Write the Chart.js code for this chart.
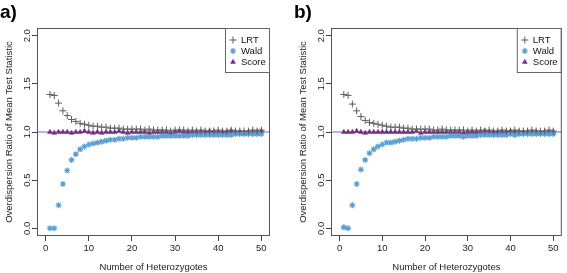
<!DOCTYPE html>
<html>
<head>
<meta charset="utf-8">
<script src="https://cdn.jsdelivr.net/npm/chart.js@4.4.1/dist/chart.umd.min.js"></script>
<style>
  body { margin: 0; background: #fff; }
  .painel { position: absolute; top: 0; height: 273px; }
</style>
</head>
<body>
<div class="painel" style="left:0px;width:283px"><canvas id="graficoA"></canvas></div>
<div class="painel" style="left:294px;width:273px"><canvas id="graficoB"></canvas></div>
<script>
// eixo x: número de heterozigotos
const heterozigotos = [1,2,3,4,5,6,7,8,9,10,11,12,13,14,15,16,17,18,19,20,21,22,23,24,25,
  26,27,28,29,30,31,32,33,34,35,36,37,38,39,40,41,42,43,44,45,46,47,48,49,50];
const xTicks = [0, 10, 20, 30, 40, 50];
const yTicks = [0, 0.5, 1, 1.5, 2];
const yTickLabels = ['0.0', '0.5', '1.0', '1.5', '2.0'];
const linhaRef = 1;
const nomesSeries = ['LRT', 'Wald', 'Score'];

// painel a)
const lrtA = [1.39,1.38,1.30,1.22,1.17,1.13,1.11,1.09,1.08,1.07, 1.06,1.06,1.05,1.05,1.04,1.04,1.04,1.03,1.03,1.03,
  1.03,1.03,1.02,1.03,1.02,1.02,1.02,1.02,1.01,1.02, 1.02,1.02,1.01,1.02,1.01,1.02,1.01,1.01,1.01,1.02,
  1.01,1.01,1.02,1.01,1.01,1.01,1.01,1.02,1.01,1.02];
const waldA = [0.00,0.00,0.24,0.46,0.60,0.71,0.77,0.82,0.85,0.87, 0.88,0.89,0.90,0.91,0.92,0.92,0.93,0.93,0.94,0.94,
  0.94,0.95,0.95,0.95,0.95,0.95,0.96,0.96,0.96,0.96, 0.96,0.96,0.96,0.97,0.97,0.97,0.97,0.97,0.97,0.97,
  0.97,0.97,0.97,0.98,0.98,0.98,0.98,0.98,0.98,0.98];
const scoreA = [1.00,0.99,1.00,1.00,1.00,0.99,1.00,1.00,1.01,1.00, 0.99,1.00,0.99,1.00,1.00,1.00,1.01,1.00,0.99,1.00,
  1.00,1.00,1.00,0.99,1.00,1.00,1.00,1.00,0.99,1.00, 1.01,1.00,1.00,1.00,1.00,1.00,1.00,1.01,1.00,1.00,
  1.00,1.00,1.01,1.00,1.00,0.99,1.00,1.00,1.00,1.01];

// painel b)
const lrtB = [1.39,1.38,1.29,1.22,1.16,1.12,1.10,1.09,1.08,1.07, 1.06,1.05,1.05,1.05,1.04,1.04,1.03,1.03,1.03,1.03,
  1.03,1.02,1.02,1.03,1.02,1.02,1.02,1.02,1.02,1.01, 1.02,1.01,1.02,1.01,1.02,1.01,1.01,1.02,1.01,1.01,
  1.02,1.01,1.01,1.01,1.02,1.01,1.01,1.01,1.02,1.01];
const waldB = [0.01,0.00,0.24,0.46,0.61,0.71,0.78,0.82,0.85,0.87, 0.89,0.89,0.90,0.91,0.92,0.93,0.93,0.93,0.94,0.94,
  0.94,0.95,0.95,0.95,0.95,0.96,0.96,0.96,0.95,0.96, 0.96,0.96,0.97,0.97,0.97,0.97,0.97,0.97,0.97,0.98,
  0.97,0.98,0.98,0.98,0.98,0.98,0.98,0.98,0.98,0.98];
const scoreB = [1.00,1.00,1.00,1.01,1.00,0.99,1.00,1.00,1.00,1.00, 1.00,1.00,1.00,1.00,1.00,1.00,1.00,1.01,0.99,1.00,
  1.00,1.00,1.00,1.00,1.00,1.00,1.00,1.00,0.99,1.00, 1.00,1.00,1.00,1.01,1.00,1.00,1.00,1.00,1.00,1.01,
  1.00,1.00,1.00,1.00,1.00,1.00,0.99,1.00,1.00,1.00];

Chart.defaults.font.family = '"Liberation Sans", Arial, sans-serif';
Chart.defaults.color = '#222';

const pontos = (serie) => serie.map((v, i) => ({ x: heterozigotos[i], y: v }));

// linha horizontal em 1.0 + moldura + rótulos do eixo y giráveis
const pluginMoldura = {
  id: 'moldura',
  beforeDatasetsDraw(chart) {
    const { ctx, chartArea, scales } = chart;
    const y = scales.y.getPixelForValue(linhaRef);
    ctx.save();
    ctx.strokeStyle = 'rgba(120,120,220,0.75)';
    ctx.lineWidth = 1.3;
    ctx.beginPath();
    ctx.moveTo(chartArea.left, y);
    ctx.lineTo(chartArea.right, y);
    ctx.stroke();
    ctx.restore();
  },
  afterDraw(chart) {
    const { ctx, chartArea, scales } = chart;
    ctx.save();
    ctx.strokeStyle = '#555';
    ctx.lineWidth = 1;
    ctx.strokeRect(chartArea.left + 0.5, chartArea.top + 0.5,
      chartArea.right - chartArea.left - 1, chartArea.bottom - chartArea.top - 1);

    // rótulos do eixo y, na vertical como no R
    ctx.fillStyle = '#222';
    ctx.font = '9.5px "Liberation Sans", Arial, sans-serif';
    ctx.textAlign = 'center';
    ctx.textBaseline = 'middle';
    yTicks.forEach((v, i) => {
      const y = scales.y.getPixelForValue(v);
      ctx.save();
      ctx.translate(chartArea.left - 10, y);
      ctx.rotate(-Math.PI / 2);
      ctx.fillText(yTickLabels[i], 0, 0);
      ctx.restore();
    });

    // legenda com caixa no canto superior direito
    const larg = 45, alt = 45;
    const bx = chartArea.right - larg, by = chartArea.top;
    ctx.strokeStyle = '#666';
    ctx.strokeRect(bx + 0.5, by + 0.5, larg - 1, alt - 1);
    ctx.font = '9.5px "Liberation Sans", Arial, sans-serif';
    ctx.textAlign = 'left';
    chart.data.datasets.forEach((ds, i) => {
      const yy = by + 12 + i * 11;
      ctx.save();
      ctx.strokeStyle = ds.borderColor;
      ctx.fillStyle = ds.backgroundColor;
      ctx.lineWidth = ds.borderWidth;
      Chart.helpers.drawPoint(ctx, { pointStyle: ds.pointStyle, radius: ds.pointRadius, borderWidth: ds.borderWidth, rotation: 0 }, bx + 8, yy);
      ctx.restore();
      ctx.fillStyle = '#111';
      ctx.fillText(ds.label, bx + 16, yy);
    });
    ctx.restore();
  }
};

function criarPainel(id, letra, lrt, wald, score, padDireita) {
  return new Chart(document.getElementById(id), {
    type: 'scatter',
    data: {
      datasets: [
        {
          label: nomesSeries[0],
          data: pontos(lrt),
          pointStyle: 'cross',
          pointRadius: 3.5,
          borderWidth: 1,
          borderColor: '#5c5c5c',
          backgroundColor: '#5c5c5c'
        },
        {
          label: nomesSeries[1],
          data: pontos(wald),
          pointStyle: 'star',
          pointRadius: 3,
          borderWidth: 1.2,
          borderColor: '#5b9fd3',
          backgroundColor: '#5b9fd3'
        },
        {
          label: nomesSeries[2],
          data: pontos(score),
          pointStyle: 'triangle',
          pointRadius: 2.8,
          borderWidth: 0.5,
          borderColor: '#742783',
          backgroundColor: '#742783'
        }
      ]
    },
    options: {
      responsive: true,
      maintainAspectRatio: false,
      animation: false,
      events: [],
      layout: { padding: { left: 0, right: padDireita, top: 0, bottom: 0 } },
      scales: {
        x: {
          type: 'linear',
          min: -2,
          max: 52,
          afterBuildTicks: (s) => { s.ticks = xTicks.map(v => ({ value: v })); },
          afterFit: (s) => { s.height = 37; },
          border: { display: false },
          grid: { drawOnChartArea: false, drawTicks: true, tickLength: 5, color: '#444' },
          ticks: { font: { size: 9.5 }, color: '#222', padding: 2, maxRotation: 0 },
          title: { display: true, text: 'Number of Heterozygotes', font: { size: 9.5 }, color: '#222', padding: { top: 0, bottom: 0 } }
        },
        y: {
          type: 'linear',
          min: -0.08,
          max: 2.08,
          afterBuildTicks: (s) => { s.ticks = yTicks.map(v => ({ value: v })); },
          afterFit: (s) => { s.width = 37; },
          border: { display: false },
          grid: { drawOnChartArea: false, drawTicks: true, tickLength: 5, color: '#444' },
          ticks: { display: false },
          title: { display: true, text: 'Overdispersion Ratio of Mean Test Statistic', font: { size: 9.5 }, color: '#222', padding: { top: 4, bottom: 0 } }
        }
      },
      plugins: {
        legend: { display: false },
        tooltip: { enabled: false },
        title: {
          display: true,
          align: 'start',
          text: letra,
          color: '#000',
          font: { size: 19, weight: 'bold' },
          padding: { top: 1, bottom: 4.2 }
        }
      }
    },
    plugins: [pluginMoldura]
  });
}

criarPainel('graficoA', 'a)', lrtA, waldA, scoreA, 13);
criarPainel('graficoB', 'b)', lrtB, waldB, scoreB, 2);
</script>
</body>
</html>
